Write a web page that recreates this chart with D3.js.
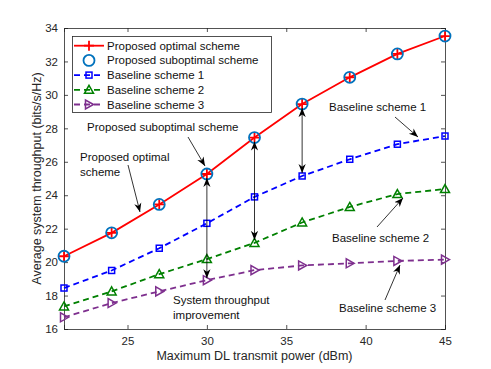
<!DOCTYPE html>
<html>
<head>
<meta charset="utf-8">
<script src="https://cdn.jsdelivr.net/npm/d3@7"></script>
<style>
body { margin: 0; background: #fff; }
text { font-family: "Liberation Sans", Arial, sans-serif; }
</style>
</head>
<body>
<div id="chart"></div>
<script>
// data
var power = [21, 24, 27, 30, 33, 36, 39, 42, 45];
var optimal = [20.35, 21.75, 23.45, 25.27, 27.45, 29.45, 31.05, 32.45, 33.52];
var suboptimal = [20.35, 21.75, 23.45, 25.27, 27.45, 29.45, 31.05, 32.45, 33.52];
var baseline1 = [18.45, 19.5, 20.83, 22.32, 23.9, 25.15, 26.15, 27.05, 27.54];
var baseline2 = [17.35, 18.25, 19.28, 20.18, 21.15, 22.37, 23.3, 24.07, 24.37];
var baseline3 = [16.7, 17.55, 18.25, 18.92, 19.52, 19.8, 19.93, 20.07, 20.15];
var xTicks = [25, 30, 35, 40, 45];
var yTicks = [16, 18, 20, 22, 24, 26, 28, 30, 32, 34];

var W = 491, H = 369;
var margin = {left: 64, right: 46, top: 28, bottom: 40};

var svg = d3.select("#chart").append("svg")
    .attr("width", W).attr("height", H);

var x = d3.scaleLinear().domain([21, 45]).range([margin.left, W - margin.right]);
var y = d3.scaleLinear().domain([16, 34]).range([H - margin.bottom, margin.top]);

var axisCol = "#262626";

// axes box
var gx = svg.append("g").attr("transform", "translate(0," + (H - margin.bottom) + ")")
    .call(d3.axisBottom(x).tickValues(xTicks).tickSize(-4).tickPadding(8));
var gxt = svg.append("g").attr("transform", "translate(0," + margin.top + ")")
    .call(d3.axisTop(x).tickValues(xTicks).tickSize(-4).tickFormat(""));
var gy = svg.append("g").attr("transform", "translate(" + margin.left + ",0)")
    .call(d3.axisLeft(y).tickValues(yTicks).tickSize(-4).tickPadding(6));
var gyr = svg.append("g").attr("transform", "translate(" + (W - margin.right) + ",0)")
    .call(d3.axisRight(y).tickValues(yTicks).tickSize(-4).tickFormat(""));
[gx, gxt, gy, gyr].forEach(function(g) {
    g.selectAll("path.domain").attr("stroke", axisCol).attr("stroke-width", 0.8);
    g.selectAll(".tick line").attr("stroke", axisCol).attr("stroke-width", 0.8);
    g.selectAll(".tick text").attr("fill", axisCol).attr("font-size", 11.5)
        .style("font-family", "Liberation Sans, Arial, sans-serif");
});

svg.append("text").attr("x", (x(21) + x(45)) / 2).attr("y", 360)
    .attr("text-anchor", "middle").attr("font-size", 12.5).attr("fill", axisCol)
    .text("Maximum DL transmit power (dBm)");
svg.append("text").attr("transform", "translate(41," + ((y(16) + y(34)) / 2) + ") rotate(-90)")
    .attr("text-anchor", "middle").attr("font-size", 12.5).attr("fill", axisCol)
    .text("Average system throughput (bits/s/Hz)");

var series = [
    {name: "Proposed optimal scheme", vals: optimal, color: "#ff0000", dash: null, marker: "plus"},
    {name: "Proposed suboptimal scheme", vals: suboptimal, color: "#0072bd", dash: null, marker: "circle", noLine: true},
    {name: "Baseline scheme 1", vals: baseline1, color: "#0000ff", dash: "6,4", marker: "square"},
    {name: "Baseline scheme 2", vals: baseline2, color: "#008000", dash: "6,4", marker: "triangle"},
    {name: "Baseline scheme 3", vals: baseline3, color: "#7e2f8e", dash: "6,4", marker: "tright"}
];

function drawMarker(g, type, cx, cy, color) {
    if (type === "plus") {
        g.append("path").attr("d", "M" + (cx - 5) + "," + cy + "H" + (cx + 5) + "M" + cx + "," + (cy - 5) + "V" + (cy + 5))
            .attr("stroke", color).attr("stroke-width", 1.8).attr("fill", "none");
    } else if (type === "circle") {
        g.append("circle").attr("cx", cx).attr("cy", cy).attr("r", 5.5)
            .attr("stroke", color).attr("stroke-width", 1.8).attr("fill", "none");
    } else if (type === "square") {
        g.append("rect").attr("x", cx - 3).attr("y", cy - 3).attr("width", 6).attr("height", 6)
            .attr("stroke", color).attr("stroke-width", 1.5).attr("fill", "none");
    } else if (type === "triangle") {
        g.append("path").attr("d", "M" + cx + "," + (cy - 4.5) + "L" + (cx + 4.5) + "," + (cy + 3.5) + "L" + (cx - 4.5) + "," + (cy + 3.5) + "Z")
            .attr("stroke", color).attr("stroke-width", 1.5).attr("fill", "none");
    } else if (type === "tright") {
        g.append("path").attr("d", "M" + (cx + 4.5) + "," + cy + "L" + (cx - 3.5) + "," + (cy - 4.5) + "L" + (cx - 3.5) + "," + (cy + 4.5) + "Z")
            .attr("stroke", color).attr("stroke-width", 1.5).attr("fill", "none");
    }
}

var line = d3.line().x(function(d, i) { return x(power[i]); }).y(function(d) { return y(d); });

// draw baselines first, then proposed on top
[4, 3, 2, 0, 1].forEach(function(k) {
    var s = series[k];
    var g = svg.append("g");
    if (!s.noLine) {
        g.append("path").datum(s.vals).attr("d", line)
            .attr("fill", "none").attr("stroke", s.color).attr("stroke-width", 1.8)
            .attr("stroke-dasharray", s.dash);
    }
    s.vals.forEach(function(v, i) { drawMarker(g, s.marker, x(power[i]), y(v), s.color); });
});

// arrows
var defs = svg.append("defs");
defs.append("marker").attr("id", "ah").attr("viewBox", "0 0 10 10").attr("refX", 10).attr("refY", 5)
    .attr("markerWidth", 9).attr("markerHeight", 9).attr("orient", "auto-start-reverse")
    .attr("markerUnits", "userSpaceOnUse")
    .append("path").attr("d", "M0,1 L10,5 L0,9 L3,5 Z").attr("fill", "#000");

function arrow(x1, y1, x2, y2, both) {
    svg.append("line").attr("x1", x1).attr("y1", y1).attr("x2", x2).attr("y2", y2)
        .attr("stroke", "#000").attr("stroke-width", 0.8)
        .attr("marker-end", "url(#ah)").attr("marker-start", both ? "url(#ah)" : null);
}

// throughput improvement double arrows
arrow(x(30), y(optimal[3]) + 4, x(30), y(baseline3[3]) - 2, true);
arrow(x(33), y(optimal[4]) + 4, x(33), y(baseline2[4]) - 3, true);
arrow(x(36), y(optimal[5]) + 4, x(36), y(baseline1[5]) - 3, true);

arrow(128, 165, 140, 212, false);
arrow(188, 137, 205, 166, false);
arrow(395, 117, 418, 137, false);
arrow(377, 227, 403, 198, false);
arrow(385, 300, 400, 265, false);

function label(tx, ty, lines) {
    lines.forEach(function(t, i) {
        svg.append("text").attr("x", tx).attr("y", ty + i * 15).attr("font-size", 11.5)
            .attr("fill", "#111").text(t);
    });
}
label(80, 161, ["Proposed optimal", "scheme"]);
label(87, 131, ["Proposed suboptimal scheme"]);
label(173, 304, ["System throughput", "improvement"]);
label(329, 111, ["Baseline scheme 1"]);
label(332, 242, ["Baseline scheme 2"]);
label(339, 312, ["Baseline scheme 3"]);

// legend
var lg = svg.append("g");
lg.append("rect").attr("x", 72.5).attr("y", 36.5).attr("width", 199).attr("height", 76)
    .attr("fill", "#fff").attr("stroke", "#262626").attr("stroke-width", 0.8);
series.forEach(function(s, i) {
    var ly = 45.7 + i * 14.7;
    if (!s.noLine) {
        lg.append("line").attr("x1", 74).attr("x2", 104).attr("y1", ly).attr("y2", ly)
            .attr("stroke", s.color).attr("stroke-width", 1.8)
            .attr("stroke-dasharray", s.dash ? "6,4" : null);
    }
    drawMarker(lg, s.marker, 89, ly, s.color);
    lg.append("text").attr("x", 107).attr("y", ly + 4).attr("font-size", 11.5)
        .attr("fill", "#111").text(s.name);
});
</script>
</body>
</html>
